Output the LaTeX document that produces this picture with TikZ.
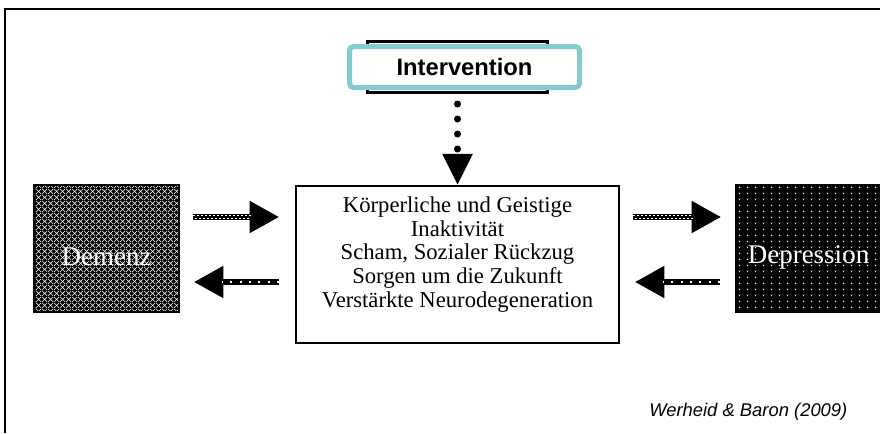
\documentclass[tikz,border=0pt]{standalone}
\usepackage{fontspec}
\setmainfont{Liberation Serif}
\newfontfamily\arialfont{Liberation Sans}
\usetikzlibrary{arrows.meta,patterns.meta}
\definecolor{tealframe}{RGB}{132,203,208}

% white lattice on black (Demenz) and white dot grid (Depression)
\tikzdeclarepattern{name=demgrid, type=uncolored,
  bounding box={(0,0) and (4.5pt,4.5pt)}, tile size={(4.5pt,4.5pt)},
  code={\draw[line width=0.45pt] (0,0) -- (4.5pt,4.5pt) (0,4.5pt) -- (4.5pt,0);}}
\tikzdeclarepattern{name=depdots, type=uncolored,
  bounding box={(0,0) and (6pt,4.2pt)}, tile size={(6pt,4.2pt)},
  code={\fill (3pt,2.1pt) circle (0.6pt);}}

\tikzset{
  darkbox/.style={draw=black, line width=1.5pt, inner sep=0pt,
    minimum width=108.75pt, minimum height=95.25pt, text=white,
    font=\fontsize{20.25}{24}\selectfont, text height=24.75pt, text depth=0pt},
  fatarrow/.style={line width=4.5pt, -{Triangle[length=22pt,width=23pt]}},
  chainshaft/.style={
    postaction={draw=white, line width=1pt, arrows=-, shorten >=21pt,
      dash pattern=on 1.2pt off 1.8pt, transform canvas={yshift=1.1pt}},
    postaction={draw=white, line width=1pt, arrows=-, shorten >=21pt,
      dash pattern=on 1.2pt off 1.8pt, dash phase=1.5pt, transform canvas={yshift=-1.1pt}}},
  dotshaft/.style={
    postaction={draw=white, line width=1.4pt, arrows=-, shorten >=21pt,
      dash pattern=on 1.4pt off 5.6pt}},
}

\begin{document}
\begin{tikzpicture}[x=0.75pt, y=-0.75pt]
\useasboundingbox (0,0) rectangle (880,433);

% slide frame
\draw[line width=1.5pt] (880,9) -- (5,9) -- (5,433);

% intervention
\draw[line width=2.25pt] (367,41) rectangle (547,92);
\node[draw=tealframe, fill=white, line width=3.75pt, rounded corners=3pt,
      minimum width=172.5pt, minimum height=30.75pt,
      font=\arialfont\bfseries\fontsize{17.8}{20}\selectfont] (interv) at (464.5,67) {Intervention};

% centre box
\node[draw, line width=1.5pt, minimum width=242.25pt, minimum height=117.75pt] (core) at (457.5,264) {};
\node[anchor=north, align=center, inner sep=0pt, font=\fontsize{17}{17.8}\selectfont]
  (coretext) at ([yshift=-9pt]core.north)
  {Körperliche und Geistige\\Inaktivität\\Scham, Sozialer Rückzug\\Sorgen um die Zukunft\\Verstärkte Neurodegeneration};

% Demenz / Depression
\node[darkbox, preaction={fill=black}, pattern=demgrid, pattern color=white] (demenz) at (106.5,248.5) {Demenz};
\node[darkbox, preaction={fill=black}, pattern=depdots, pattern color=white,
      text height=23pt] (depr) at (808.5,248) {Depression};

\draw[line width=5.25pt, line cap=round, dash pattern=on 0pt off 11.25pt,
      -{Triangle[length=23pt,width=23pt,line width=0pt]}, shorten <=10.5pt]
  (core.north |- interv.south) -- (core.north);

\coordinate (r1) at (0,217);
\coordinate (r2) at (0,282);

\draw[fatarrow, chainshaft] ([xshift=9.75pt]demenz.east |- r1) -- ([xshift=-12pt]core.west |- r1);
\draw[fatarrow, dotshaft] ([xshift=-12pt]core.west |- r2) -- ([xshift=10.5pt]demenz.east |- r2);
\draw[fatarrow, chainshaft] ([xshift=9.75pt]core.east |- r1) -- ([xshift=-10.5pt]depr.west |- r1);
\draw[fatarrow, dotshaft] ([xshift=-11.25pt]depr.west |- r2) -- ([xshift=11.25pt]core.east |- r2);

\node[anchor=base west, inner sep=0pt, font=\arialfont\itshape\fontsize{13.8}{16}\selectfont]
  (cite) at (649,416) {Werheid \& Baron (2009)};
\end{tikzpicture}
\end{document}
